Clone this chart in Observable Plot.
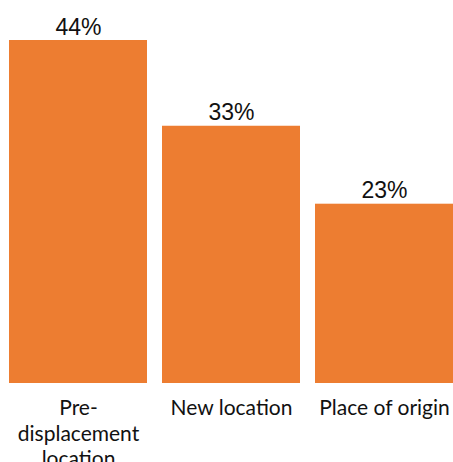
<!DOCTYPE html>
<html>
<head>
<meta charset="utf-8">
<script src="https://cdn.jsdelivr.net/npm/d3@7"></script>
<script src="https://cdn.jsdelivr.net/npm/@observablehq/plot@0.6"></script>
<style>
  html, body { margin: 0; padding: 0; background: #fff; }
</style>
</head>
<body>
<div id="chart"></div>
<script>
const categories = ["Pre-displacement location", "New location", "Place of origin"];
const tickLabels = ["Pre-\ndisplacement\nlocation", "New location", "Place of origin"];
const values = [44, 33, 23];
const valueLabels = ["44%", "33%", "23%"];

const data = categories.map((c, i) => ({cat: c, label: tickLabels[i], value: values[i], vlabel: valueLabels[i]}));

const chart = Plot.plot({
  width: 453,
  height: 462,
  marginLeft: 8,
  marginRight: 0,
  marginTop: 0,
  marginBottom: 79,
  x: {domain: categories, padding: 0.1, paddingOuter: 0, axis: null},
  y: {domain: [0, 44], range: [383, 40], axis: null},
  marks: [
    Plot.barY(data, {x: "cat", y: "value", fill: "#ED7D31"}),
    Plot.text(data, {x: "cat", y: "value", text: "vlabel", lineAnchor: "bottom", dy: -6,
      fontSize: 23, fontFamily: "Liberation Sans, Arial, sans-serif", fill: "#111"}),
    Plot.text(data, {x: "cat", y: () => 0, text: "label", lineAnchor: "top", dy: 14, lineHeight: 1.2,
      fontSize: 21, fontFamily: "Lato, sans-serif", fill: "#111"})
  ]
});
document.getElementById("chart").appendChild(chart);
</script>
</body>
</html>
